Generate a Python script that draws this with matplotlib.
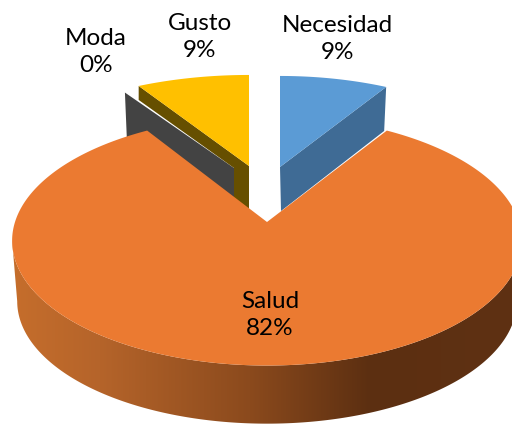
import matplotlib
matplotlib.use('Agg')
import matplotlib.pyplot as plt
from matplotlib.colors import to_rgb
from matplotlib.patches import Polygon
import numpy as np

# pie data, clockwise from 12 o'clock
labels = ['Necesidad', 'Salud', 'Moda', 'Gusto']
values = [9, 82, 0, 9]


def angles(vals):
    # start and end angle of each slice in radians
    edges = np.cumsum([0] + vals) / sum(vals) * 2 * np.pi
    return edges[:-1], edges[1:]


def project(t, apex, a, b, k):
    # point on the rim of the tilted disc, k gives the perspective
    u = np.sin(t)
    v = np.cos(t)
    w = 1 + k * v
    return apex[0] + a * u / w, apex[1] - b * v / w


def drawTop(ax, t0, t1, apex, a, b, k, color, z=1):
    t = np.linspace(t0, t1, 400)
    x, y = project(t, apex, a, b, k)
    ax.fill(np.r_[apex[0], x], np.r_[apex[1], y], color=color, lw=0, zorder=z)


def sideGradient():
    # horizontal shading of the rim, light on the left, dark on the right
    stops = [10, 100, 250, 370, 512]
    cols = [to_rgb(c) for c in ['#c66e2c', '#b5642a', '#8b4a1d', '#5c2f11', '#5f3113']]
    xs = np.arange(512) + 0.5
    grad = np.array([np.interp(xs, stops, [c[i] for c in cols]) for i in range(3)])
    return np.transpose(grad, (1, 0))[np.newaxis, :, :]


def drawSaludSide(ax, apex, a, b, k):
    # go from the widest point on the right to the widest point on the left
    tMin = np.arccos(-k)
    t = np.linspace(tMin, 2 * np.pi - tMin, 240)
    xTop, yTop = project(t, apex, a, b, k)
    xBot, yBot = project(t, (apex[0], apex[1] + 61), a * 0.98, b * 0.98, k)
    pts = np.c_[np.r_[xTop, xBot[::-1]], np.r_[yTop, yBot[::-1]]]
    im = ax.imshow(sideGradient(), extent=(0, 512, 424, 0), aspect='auto', zorder=2)
    im.set_clip_path(Polygon(pts, transform=ax.transData))


def main():
    fig = plt.figure(figsize=(5.12, 4.24), dpi=100)
    ax = fig.add_axes([0, 0, 1, 1])

    starts, ends = angles(values)
    upper = dict(a=255, b=122, k=0.34)
    lower = dict(a=252, b=122, k=0.15)

    # Necesidad
    apexN = (280, 167)
    x, y = project(ends[0], apexN, **upper)
    ax.fill([apexN[0], x, x - 2, apexN[0] + 1], [apexN[1], y, y + 44, apexN[1] + 44], color='#3f6b95', lw=0)
    drawTop(ax, starts[0], ends[0], apexN, color='#5b9bd5', **upper)

    # Moda is an empty slice, only its wall shows
    apexM = (234, 168)
    x, y = project(starts[2], apexM, a=262, b=115, k=0.34)
    ax.fill([x, apexM[0], apexM[0], x + 2], [y, apexM[1], apexM[1] + 45, y + 48], color='#434343', lw=0)

    # Gusto
    apexG = (249, 166)
    gusto = dict(a=265, b=122, k=0.34)
    x, y = project(starts[3], apexG, **gusto)
    ax.fill([apexG[0], x, x, apexM[0], apexM[0], apexG[0]],
            [apexG[1], y, y + 14, apexM[1], apexM[1] + 45, apexG[1] + 43], color='#664f00', lw=0)
    drawTop(ax, starts[3], ends[3], apexG, color='#ffc000', **gusto)

    # Salud
    apexS = (267, 222)
    drawSaludSide(ax, apexS, **lower)
    drawTop(ax, starts[1], ends[1], apexS, color='#eb7a31', z=3, **lower)

    textPos = [(337, 39), (270, 315), (96, 52), (200, 37)]
    for name, val, pos in zip(labels, values, textPos):
        ax.text(pos[0], pos[1], f'{name}\n{val / sum(values):.0%}', ha='center', va='center',
                fontsize=17.5, family='Lato', color='black', linespacing=1.35, zorder=4)

    ax.set_xlim(0, 512)
    ax.set_ylim(424, 0)
    ax.axis('off')
    fig.savefig('out.png', dpi=100)


main()
